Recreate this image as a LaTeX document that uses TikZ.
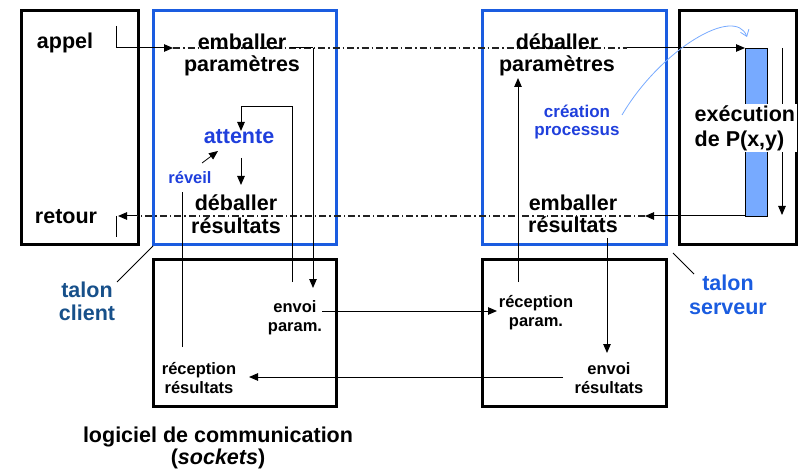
\documentclass[tikz,border=0pt]{standalone}
\usepackage{fontspec}
\setmainfont{Liberation Sans}
\usetikzlibrary{arrows.meta}
\definecolor{stubblue}{HTML}{1A5CE0}
\definecolor{waitblue}{HTML}{1F3FDC}
\definecolor{darkblue}{HTML}{17508A}
\definecolor{procfill}{HTML}{77AAFF}
\definecolor{dashgray}{HTML}{222222}
\tikzset{
  big/.style={font=\bfseries\fontsize{21.5}{22.5}\selectfont, align=center, inner sep=0pt},
  small/.style={font=\bfseries\fontsize{16.5}{19}\selectfont, align=center, inner sep=0pt},
  blacktier/.style={draw=black, line width=3pt, inner sep=0pt},
  bluetier/.style={draw=stubblue, line width=3pt, inner sep=0pt},
  link/.style={draw=black, line width=1pt},
  arr/.style={link, -{Triangle[length=9pt,width=7.5pt]}},
  dashdot/.style={draw=dashgray, line width=1.2pt, dash pattern=on 7pt off 3pt on 1.5pt off 3pt},
  leader/.style={draw=black, line width=0.8pt},
}
\begin{document}
\begin{tikzpicture}[x=1pt, y=-1pt]
\useasboundingbox (0,0) rectangle (800,470);

% tiers
\draw[blacktier] (21,11) rectangle (138,245);
\draw[bluetier] (153,11) rectangle (336,245);
\draw[bluetier] (482,11) rectangle (666,245);
\draw[blacktier] (679,11) rectangle (796,245);
\draw[blacktier] (153,260) rectangle (336,406);
\draw[blacktier] (482,260) rectangle (666,406);

% process bar on the server side
\draw[fill=procfill, draw=black, line width=0.8pt] (745,48) rectangle (767,216);

% anchor points of the connectors
\coordinate (callTop) at (116,26);
\coordinate (callCorner) at (116,48);
\coordinate (callTip) at (173,48);
\coordinate (packEnd) at (290,48);
\coordinate (packCorner) at (313,48);
\coordinate (sendTip) at (313,288);
\coordinate (srvFrom) at (627,48);
\coordinate (srvTip) at (745,48);
\coordinate (retFrom) at (745,216);
\coordinate (retTip) at (645,216);
\coordinate (backFrom) at (137,216);
\coordinate (backTip) at (118,216);
\coordinate (backLow) at (116,237);
\coordinate (backHigh) at (116,216);
\coordinate (loopLow) at (292,282);
\coordinate (loopUp) at (292,107);
\coordinate (loopLeft) at (241,107);
\coordinate (waitTip) at (241,131);
\coordinate (waitOut) at (241,158);
\coordinate (unpackTip) at (241,185);
\coordinate (wakeFrom) at (202,163);
\coordinate (wakeTip) at (218,151);
\coordinate (recvLow) at (182,347);
\coordinate (recvHigh) at (182,192);
\coordinate (netA) at (322,311);
\coordinate (netATip) at (497,311);
\coordinate (netB) at (563,377);
\coordinate (netBTip) at (249,377);
\coordinate (upFrom) at (518,282);
\coordinate (upTip) at (518,78);
\coordinate (downFrom) at (607,238);
\coordinate (downTip) at (607,353);
\coordinate (execTop) at (782,48);
\coordinate (execTip) at (782,215);
\coordinate (spawnFrom) at (622,115);
\coordinate (spawnTip) at (747,37);

% remote call path (dash-dot) and its solid ends
\draw[dashdot] (callTip) -- (srvFrom);
\draw[dashdot] (retTip) -- (backFrom);
\draw[arr] (callTop) -- (callCorner) -- (callTip);
\draw[link] (packEnd) -- (packCorner);
\draw[arr] (packCorner) -- (sendTip);
\draw[arr] (srvFrom) -- (srvTip);
\draw[arr] (retFrom) -- (retTip);
\draw[arr] (backFrom) -- (backTip);
\draw[link] (backHigh) -- (backLow);

% client stub internals
\draw[arr] (loopLow) -- (loopUp) -- (loopLeft) -- (waitTip);
\draw[arr] (waitOut) -- (unpackTip);
\draw[arr, line width=0.8pt] (wakeFrom) -- (wakeTip);
\draw[link] (recvLow) -- (recvHigh);

% network transfers
\draw[arr] (netA) -- (netATip);
\draw[arr] (netB) -- (netBTip);

% server stub internals
\draw[arr] (upFrom) -- (upTip);
\draw[arr] (downFrom) -- (downTip);
\draw[arr] (execTop) -- (execTip);

% process creation
\draw[procfill, line width=0.8pt, -{Straight Barb[length=6pt,width=9pt]}]
  (spawnFrom) .. controls (660,50) and (735,5) .. (spawnTip);

% leaders to the stub labels
\coordinate (cliCorner) at (153,246);
\coordinate (cliLead) at (117,282);
\coordinate (srvCorner) at (673,253);
\coordinate (srvLead) at (694,274);
\draw[leader] (cliLead) -- (cliCorner);
\draw[leader] (srvCorner) -- (srvLead);

% texts
\node[big] (appel) at (65,43) {appel};
\node[big] (retour) at (66,217) {retour};
\node[big] (embP) at (242,55) {emballer\\paramètres};
\node[big, text=waitblue] (attente) at (239,137) {attente};
\node[small, text=waitblue] (reveil) at (190,178) {réveil};
\node[big] (debR) at (236,214) {déballer\\résultats};
\node[big] (debP) at (557,55) {déballer\\paramètres};
\node[small, font=\bfseries\fontsize{17}{17.5}\selectfont, text=waitblue] (creation) at (577,122) {création\\processus};
\node[big] (embR) at (573,214) {emballer\\résultats};
\node[big, font=\bfseries\fontsize{21.5}{25}\selectfont, align=left, anchor=west, fill=white, inner sep=1.5pt] (exec) at (693,128) {exécution\\de P(x,y)};
\node[big, font=\bfseries\fontsize{21.5}{23}\selectfont, text=darkblue] (tcli) at (87,301) {talon\\client};
\node[big, font=\bfseries\fontsize{21.5}{24}\selectfont, text=stubblue] (tsrv) at (728,295) {talon\\serveur};
\node[small] (envP) at (295,318) {envoi\\param.};
\node[small] (recR) at (199,378) {réception\\résultats};
\node[small] (recP) at (536,313) {réception\\param.};
\node[small] (envR) at (609,378) {envoi\\résultats};
\node[big, font=\bfseries\fontsize{21.5}{21.5}\selectfont] (soft) at (218,448) {logiciel de communication\\(\textit{sockets})};
\end{tikzpicture}
\end{document}
